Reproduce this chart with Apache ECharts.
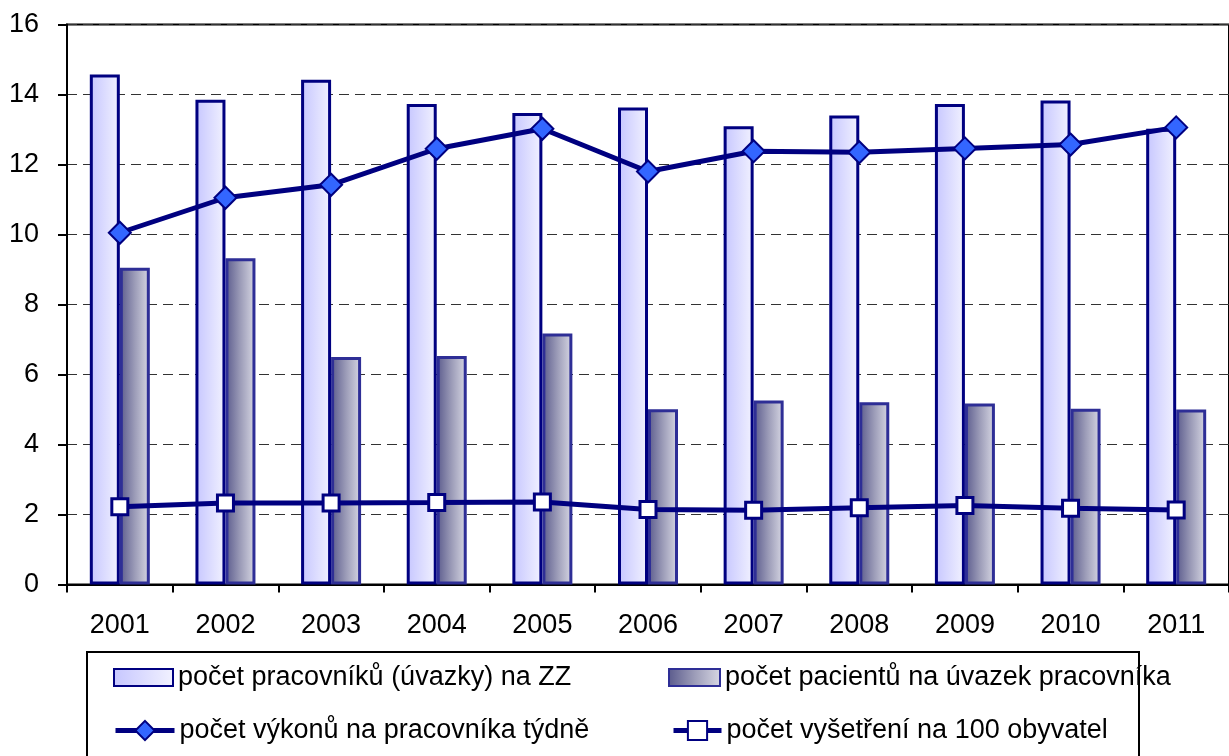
<!DOCTYPE html>
<html>
<head>
<meta charset="utf-8">
<script src="https://cdn.jsdelivr.net/npm/echarts@6/dist/echarts.min.js"></script>
<style>
html,body{margin:0;padding:0;background:#fff;}
#chart{width:1229px;height:756px;}
</style>
</head>
<body>
<div id="chart"></div>
<script>
var categories = ['2001','2002','2003','2004','2005','2006','2007','2008','2009','2010','2011'];
var seriesNames = ['počet pracovníků (úvazky) na ZZ','počet pacientů na úvazek pracovníka','počet výkonů na pracovníka týdně','počet vyšetření na 100 obyvatel'];
var workers = [14.57,13.85,14.42,13.73,13.47,13.63,13.09,13.40,13.73,13.83,13.02];
var patients = [9.05,9.32,6.50,6.53,7.17,5.01,5.26,5.21,5.17,5.02,5.00];
var procedures = [10.05,11.05,11.42,12.45,13.02,11.80,12.38,12.35,12.46,12.57,13.06];
var exams = [2.22,2.33,2.33,2.34,2.36,2.14,2.12,2.19,2.26,2.18,2.13];
var yTicks = [0,2,4,6,8,10,12,14,16];

var FONT = '"Liberation Sans", Arial, sans-serif';
var chart = echarts.init(document.getElementById('chart'));
var lightGrad = new echarts.graphic.LinearGradient(0,0,1,0,[{offset:0,color:'#C6C6FF'},{offset:1,color:'#F2F2FF'}]);
var grayGrad = new echarts.graphic.LinearGradient(0,0,1,0,[{offset:0,color:'#5A5A8C'},{offset:0.5,color:'#9C9CB8'},{offset:1,color:'#D8D8E4'}]);

function leg(name, left, top, w, h, icon){
  return {
    data:[icon?{name:name,icon:icon}:name], left:left, top:top, orient:'vertical',
    itemWidth:w, itemHeight:h, itemGap:0, padding:0,
    textStyle:{fontFamily:FONT,fontSize:27,color:'#000'},
    lineStyle:{width:5},
    selectedMode:false
  };
}

chart.setOption({
  animation:false,
  backgroundColor:'#fff',
  grid:{left:67,right:-9.5,top:24.5,bottom:171.5,show:true,borderColor:'#000',borderWidth:2,backgroundColor:'transparent'},
  legend:[
    leg(seriesNames[0],113,664,59,17,'rect'),
    leg(seriesNames[1],668,664,51,17,'rect'),
    leg(seriesNames[2],113,717,59,24),
    leg(seriesNames[3],671,717,48,24)
  ],
  graphic:[{type:'rect',shape:{x:87,y:652,width:1052,height:120},style:{fill:'none',stroke:'#000',lineWidth:2},z:-1}],
  xAxis:{
    type:'category', data:categories,
    axisLine:{lineStyle:{color:'#000',width:2}},
    axisTick:{show:true,length:8,lineStyle:{color:'#000',width:2},alignWithLabel:false},
    axisLabel:{fontFamily:FONT,fontSize:27,color:'#000',margin:28}
  },
  yAxis:{
    type:'value', min:0, max:16, interval:2,
    axisLine:{show:true,lineStyle:{color:'#000',width:2}},
    axisTick:{show:true,length:9,lineStyle:{color:'#000',width:2}},
    axisLabel:{fontFamily:FONT,fontSize:27,color:'#000',margin:28,
      formatter:function(v){return yTicks.indexOf(v)>=0?String(v):'';}},
    splitLine:{show:true,lineStyle:{color:'#333',width:1,type:[10,6]}}
  },
  series:[
    {name:seriesNames[0],type:'bar',data:workers,barWidth:30,barGap:'0%',
     itemStyle:{color:lightGrad,borderColor:'#000080',borderWidth:3}},
    {name:seriesNames[1],type:'bar',data:patients,barWidth:30,barGap:'0%',
     itemStyle:{color:grayGrad,borderColor:'#2E2E96',borderWidth:3}},
    {name:seriesNames[2],type:'line',data:procedures,symbol:'diamond',symbolSize:[22,22],
     lineStyle:{color:'#000080',width:5},itemStyle:{color:'#3366FF',borderColor:'#000080',borderWidth:2},z:5},
    {name:seriesNames[3],type:'line',data:exams,symbol:'rect',symbolSize:16,
     lineStyle:{color:'#000080',width:5},itemStyle:{color:'#FFFFFF',borderColor:'#000080',borderWidth:3},z:5}
  ]
});
</script>
</body>
</html>
